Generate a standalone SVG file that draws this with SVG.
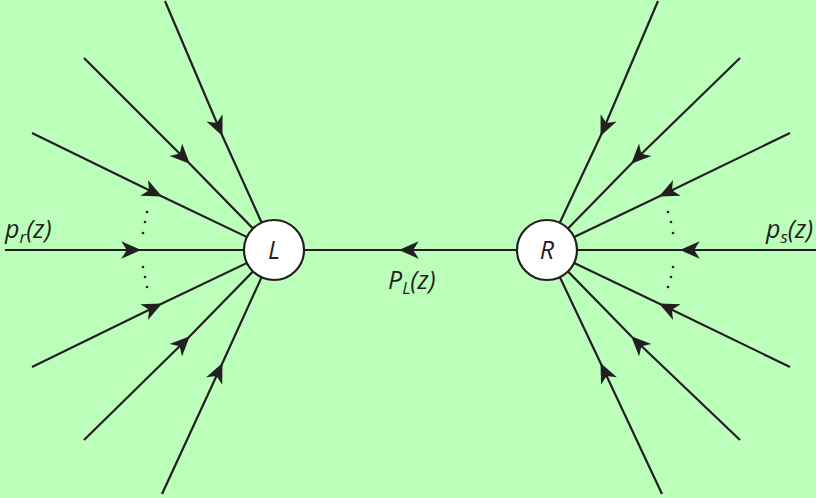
<svg xmlns="http://www.w3.org/2000/svg" width="816" height="498" viewBox="0 0 816 498">
<style>
.e{fill:none;stroke:#231f20;stroke-width:2.2;marker-mid:url(#ah)}
.n{fill:#fff;stroke:#231f20;stroke-width:2.2}
.t{font-family:"Open Sans","Liberation Sans",sans-serif;font-style:italic;font-size:25px;fill:#231f20}
.d{fill:#231f20}
</style>
<defs>
<marker id="ah" markerUnits="userSpaceOnUse" markerWidth="22" markerHeight="22" viewBox="-18 -9 20 18" refX="0" refY="0" orient="auto">
<path d="M1,0 L-17,-8 L-12,0 L-17,8 Z" fill="#231f20"/>
</marker>
</defs>
<rect width="816" height="498" fill="#bbffbb"/>
<g id="connectors">
<path class="e" d="M165,1 L222,135 L274,250"/>
<path class="e" d="M84,58 L189,163 L274,250"/>
<path class="e" d="M32,133 L161,196 L274,250"/>
<path class="e" d="M5,250 L140,250 L274,250"/>
<path class="e" d="M32,367 L161,304 L274,250"/>
<path class="e" d="M84,440 L189,337 L274,250"/>
<path class="e" d="M162,494 L222,364 L274,250"/>
<path class="e" d="M658,1 L601,135 L547,250"/>
<path class="e" d="M740,58 L632,163 L547,250"/>
<path class="e" d="M790,133 L660,196 L547,250"/>
<path class="e" d="M816,250 L681,250 L547,250"/>
<path class="e" d="M790,367 L660,304 L547,250"/>
<path class="e" d="M740,440 L632,337 L547,250"/>
<path class="e" d="M662,494 L601,364 L547,250"/>
<path class="e" d="M547,250 L400,250 L274,250"/>
</g>
<g id="dots">
<circle class="d" cx="147" cy="212" r="1.3"/>
<circle class="d" cx="145" cy="222" r="1.3"/>
<circle class="d" cx="143" cy="233" r="1.3"/>
<circle class="d" cx="143" cy="267" r="1.3"/>
<circle class="d" cx="145" cy="277" r="1.3"/>
<circle class="d" cx="147" cy="287" r="1.3"/>
<circle class="d" cx="668" cy="212" r="1.3"/>
<circle class="d" cx="671" cy="222" r="1.3"/>
<circle class="d" cx="673" cy="233" r="1.3"/>
<circle class="d" cx="673" cy="267" r="1.3"/>
<circle class="d" cx="671" cy="277" r="1.3"/>
<circle class="d" cx="668" cy="287" r="1.3"/>
</g>
<g id="L">
<circle class="n" cx="274" cy="250" r="30"/>
<text class="t" x="274" y="259" text-anchor="middle">L</text>
</g>
<g id="R">
<circle class="n" cx="547" cy="250" r="30"/>
<text class="t" x="547" y="259" text-anchor="middle">R</text>
</g>
<g id="labels">
<text class="t" x="5" y="238">p<tspan font-size="17" dy="5">r</tspan><tspan dy="-5">(z)</tspan></text>
<text class="t" x="388" y="289">P<tspan font-size="17" dy="5">L</tspan><tspan dy="-5">(z)</tspan></text>
<text class="t" x="766" y="238">p<tspan font-size="17" dy="5">s</tspan><tspan dy="-5">(z)</tspan></text>
</g>
</svg>
